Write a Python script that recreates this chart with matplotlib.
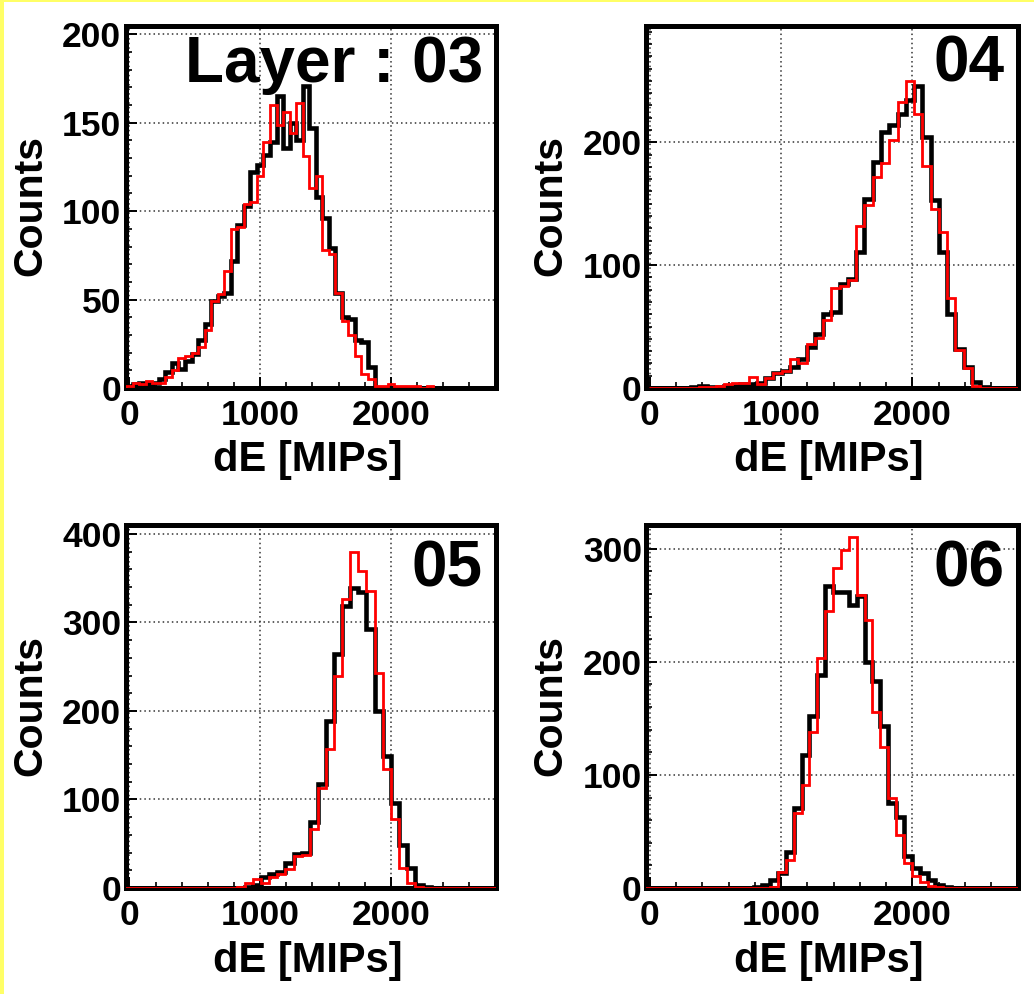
import numpy as np
import matplotlib
matplotlib.use("Agg")
import matplotlib.pyplot as plt
from matplotlib.patches import Rectangle
from matplotlib.ticker import MultipleLocator, FixedLocator

W, H, DPI = 1034, 994, 100

# ---- data -------------------------------------------------------------
layer_labels = ["Layer : 03", "04", "05", "06"]
x_ticks = [0, 1000, 2000]
x_range = (-30, 2800)
y_major = [50, 100, 100, 100]
y_minor = [10, 10, 20, 20]
y_top = [205, 295, 410, 321]

# binning of each layer histogram: lower edge of the first bin, bin width
bin_start = [-25, -4, -47, -45]
bin_width = [50, 63, 62, 60]

l03_black = [1, 2, 3, 2, 3, 5, 9, 14, 11, 15, 19, 27, 36, 49, 52, 54, 72, 92, 103, 122,
             126, 132, 139, 165, 136, 150, 140, 171, 147, 108, 96, 79, 54, 40, 39, 27, 26, 12, 0, 0,
             0, 0, 0, 0, 0, 0, 0, 0, 0, 0, 0, 0, 0, 0, 0, 0, 0]
l03_red = [1, 3, 2, 4, 3, 3, 6, 10, 17, 18, 20, 23, 33, 49, 53, 66, 90, 91, 104, 105,
           120, 139, 160, 149, 156, 144, 161, 131, 113, 120, 78, 76, 54, 38, 30, 18, 8, 5, 1, 1,
           2, 1, 1, 1, 1, 0, 1]

l04_black = [0, 0, 0, 0, 0, 1, 2, 1, 1, 2, 2, 3, 3, 4, 8, 12, 14, 17, 24, 33,
             44, 60, 62, 85, 89, 111, 154, 184, 208, 214, 223, 234, 246, 204, 153, 111, 60, 32, 17, 5,
             1, 0, 0, 0, 0]
l04_red = [0, 0, 0, 0, 0, 0, 1, 1, 2, 3, 4, 4, 9, 3, 8, 12, 14, 24, 20, 36,
           41, 55, 81, 83, 88, 132, 149, 172, 183, 202, 233, 250, 223, 181, 146, 127, 73, 31, 16, 2,
           0, 0, 0, 0, 0]

l05_black = [0, 0, 0, 0, 0, 0, 0, 0, 0, 0, 0, 0, 0, 0, 0, 1, 3, 12, 16, 18,
             28, 38, 40, 74, 118, 189, 264, 319, 339, 334, 292, 200, 149, 96, 49, 23, 3, 1, 0, 0,
             0, 0, 0, 0, 0, 0]
l05_red = [0, 0, 0, 0, 0, 0, 0, 0, 0, 0, 0, 0, 0, 0, 1, 6, 10, 6, 12, 16,
           22, 36, 37, 67, 113, 157, 240, 326, 380, 358, 335, 243, 134, 78, 23, 6, 1, 0, 0, 0,
           0, 0, 0, 0, 0, 0]

l06_black = [0, 0, 0, 0, 0, 0, 0, 0, 0, 0, 0, 0, 0, 0, 1, 3, 7, 13, 32, 71,
             118, 152, 188, 267, 262, 262, 250, 258, 200, 183, 143, 75, 63, 28, 18, 13, 7, 3, 1, 0,
             0, 0, 0, 0, 0, 0, 0, 0]
l06_red = [0, 0, 0, 0, 0, 0, 0, 0, 0, 0, 0, 0, 0, 0, 0, 0, 1, 14, 25, 66,
           91, 138, 203, 245, 283, 299, 310, 259, 237, 156, 125, 80, 47, 22, 11, 5, 2, 1, 0, 0,
           0, 0, 0, 0, 0, 0, 0, 0]

black_series = [l03_black, l04_black, l05_black, l06_black]
red_series = [l03_red, l04_red, l05_red, l06_red]

# ---- layout (pixel boxes: left, top, right, bottom) -------------------
boxes = [(125.5, 25.5, 495.5, 388.0),
         (646.0, 25.5, 1017.5, 388.0),
         (125.5, 525.0, 495.5, 888.0),
         (646.0, 525.0, 1017.5, 888.0)]

FONT = "Liberation Sans"
plt.rcParams["font.family"] = [FONT, "DejaVu Sans"]
plt.rcParams["font.weight"] = "bold"

fig = plt.figure(figsize=(W / DPI, H / DPI), dpi=DPI, facecolor="white")

# thin yellow frame on the top and left edges
fig.patches.append(Rectangle((0, 1 - 2.0 / H), 1, 2.0 / H, transform=fig.transFigure,
                             facecolor="#ffff66", edgecolor="none", zorder=0))
fig.patches.append(Rectangle((0, 0), 3.5 / W, 1, transform=fig.transFigure,
                             facecolor="#ffff66", edgecolor="none", zorder=0))


def edges_for(i, n):
    return bin_start[i] + bin_width[i] * np.arange(n + 1)


for i, (l, t, r, b) in enumerate(boxes):
    ax = fig.add_axes([l / W, 1 - b / H, (r - l) / W, (b - t) / H])
    ax.set_xlim(*x_range)
    ax.set_ylim(0, y_top[i])

    blk = np.asarray(black_series[i], dtype=float)
    red = np.asarray(red_series[i], dtype=float)
    ax.stairs(blk, edges_for(i, len(blk)), color="black", lw=3.3, zorder=3,
              joinstyle="miter")
    ax.stairs(red, edges_for(i, len(red)), color="#ff0000", lw=2.0, zorder=4,
              joinstyle="miter")

    ax.xaxis.set_major_locator(FixedLocator(x_ticks))
    ax.xaxis.set_minor_locator(MultipleLocator(200))
    ax.yaxis.set_major_locator(MultipleLocator(y_major[i]))
    ax.yaxis.set_minor_locator(MultipleLocator(y_minor[i]))

    ax.grid(True, which="major", color="#333333", linestyle=(0, (1, 2)), lw=1.1, zorder=1)

    for s in ax.spines.values():
        s.set_linewidth(3.6)
        s.set_color("black")
        s.set_zorder(2.5)

    ax.tick_params(axis="both", which="major", direction="in", length=8, width=1.4,
                   labelsize=25.5, top=False, right=False)
    ax.tick_params(axis="both", which="minor", direction="in", length=4, width=1.2,
                   top=False, right=False)
    ax.tick_params(axis="y", which="major", pad=3)
    ax.tick_params(axis="x", which="major", pad=8)
    for lab in ax.get_xticklabels() + ax.get_yticklabels():
        lab.set_fontweight("bold")

    ax.set_xlabel("dE [MIPs]", fontsize=30, fontweight="bold", va="center", ha="center")
    ax.xaxis.set_label_coords(0.493, -0.2)
    ax.set_ylabel("Counts", fontsize=29.5, fontweight="bold", va="center", ha="center")
    ax.yaxis.set_label_coords(-0.258, 0.503)

    ax.text(0.966, 0.845 if i < 2 else 0.83, layer_labels[i], transform=ax.transAxes,
            ha="right", va="baseline", fontsize=46, fontweight="bold", zorder=6)

fig.savefig("out.png", dpi=DPI, facecolor="white")
